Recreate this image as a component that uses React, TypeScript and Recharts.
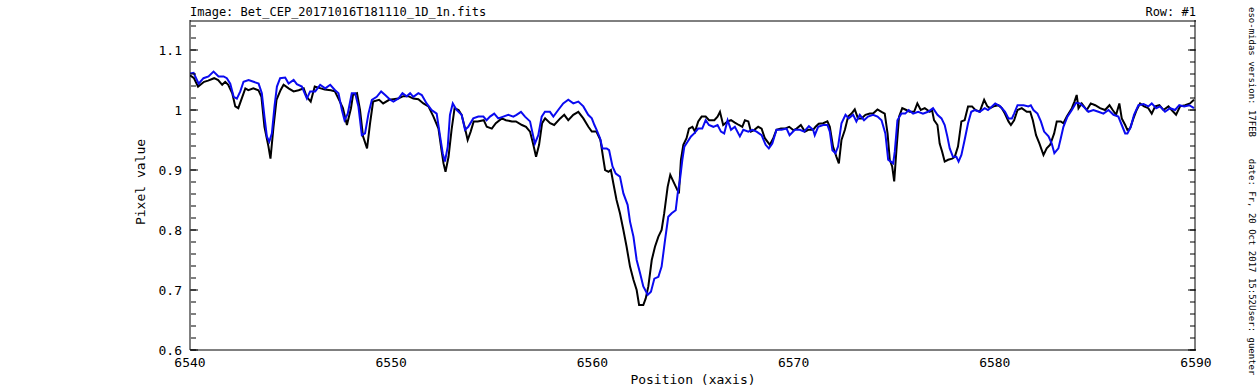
import { LineChart, Line, XAxis, YAxis } from 'recharts';

// black: first spectrum, blue: second spectrum  [wavelength, pixel value]
const blackSpectrum: [number, number][] = [
  [6540.0, 1.058], [6540.2, 1.053], [6540.4, 1.039], [6540.7, 1.047], [6540.9, 1.049], [6541.2, 1.053],
  [6541.4, 1.05], [6541.6, 1.042], [6541.75, 1.047], [6541.9, 1.042], [6542.1, 1.028], [6542.25, 1.006],
  [6542.4, 1.003], [6542.6, 1.022], [6542.75, 1.036], [6542.9, 1.033], [6543.15, 1.036], [6543.4, 1.033],
  [6543.55, 1.022], [6543.7, 0.972], [6543.9, 0.939], [6544.0, 0.919], [6544.15, 0.972], [6544.3, 1.017],
  [6544.5, 1.033], [6544.65, 1.042], [6544.9, 1.036], [6545.15, 1.031], [6545.4, 1.033], [6545.65, 1.036],
  [6545.8, 1.022], [6546.0, 1.014], [6546.2, 1.039], [6546.5, 1.036], [6546.7, 1.034], [6547.0, 1.033],
  [6547.2, 1.031], [6547.45, 1.014], [6547.6, 1.003], [6547.8, 0.975], [6548.0, 1.003], [6548.1, 1.025],
  [6548.3, 1.028], [6548.45, 1.0], [6548.6, 0.956], [6548.8, 0.936], [6548.95, 0.978], [6549.1, 1.014],
  [6549.4, 1.017], [6549.6, 1.011], [6549.9, 1.017], [6550.1, 1.018], [6550.35, 1.019], [6550.6, 1.023],
  [6550.85, 1.023], [6551.1, 1.019], [6551.35, 1.018], [6551.6, 1.011], [6551.85, 1.006], [6552.1, 0.989],
  [6552.35, 0.969], [6552.5, 0.933], [6552.6, 0.911], [6552.7, 0.897], [6552.85, 0.922], [6553.0, 0.967],
  [6553.15, 1.003], [6553.35, 1.0], [6553.5, 0.992], [6553.65, 0.972], [6553.8, 0.95], [6553.95, 0.964],
  [6554.1, 0.981], [6554.3, 0.981], [6554.6, 0.983], [6554.75, 0.972], [6555.0, 0.969], [6555.2, 0.978],
  [6555.5, 0.986], [6555.7, 0.983], [6556.0, 0.981], [6556.2, 0.981], [6556.5, 0.975], [6556.7, 0.972],
  [6556.9, 0.964], [6557.05, 0.944], [6557.2, 0.922], [6557.35, 0.942], [6557.5, 0.978], [6557.65, 0.986],
  [6557.9, 0.978], [6558.1, 0.975], [6558.4, 0.986], [6558.6, 0.992], [6558.8, 0.983], [6559.05, 0.992],
  [6559.3, 0.997], [6559.55, 0.986], [6559.8, 0.972], [6559.97, 0.964], [6560.2, 0.964], [6560.4, 0.95],
  [6560.55, 0.917], [6560.63, 0.9], [6560.8, 0.897], [6560.92, 0.9], [6561.04, 0.878], [6561.2, 0.85],
  [6561.37, 0.828], [6561.54, 0.8], [6561.7, 0.772], [6561.87, 0.739], [6562.04, 0.717], [6562.2, 0.7],
  [6562.32, 0.675], [6562.53, 0.675], [6562.65, 0.686], [6562.78, 0.706], [6562.95, 0.75], [6563.11, 0.772],
  [6563.28, 0.789], [6563.44, 0.8], [6563.57, 0.828], [6563.74, 0.872], [6563.87, 0.892], [6564.02, 0.881],
  [6564.19, 0.869], [6564.3, 0.861], [6564.4, 0.917], [6564.52, 0.942], [6564.68, 0.953], [6564.8, 0.969],
  [6564.97, 0.972], [6565.1, 0.964], [6565.26, 0.981], [6565.43, 0.989], [6565.63, 0.989], [6565.8, 0.983],
  [6566.06, 0.983], [6566.22, 0.989], [6566.34, 0.997], [6566.5, 0.975], [6566.72, 0.981], [6566.89, 0.983],
  [6567.08, 0.979], [6567.28, 0.975], [6567.45, 0.972], [6567.58, 0.983], [6567.75, 0.981], [6567.88, 0.964],
  [6568.05, 0.967], [6568.24, 0.972], [6568.41, 0.969], [6568.57, 0.953], [6568.82, 0.942], [6568.99, 0.953],
  [6569.15, 0.967], [6569.37, 0.969], [6569.57, 0.969], [6569.78, 0.972], [6570.0, 0.966], [6570.15, 0.969],
  [6570.36, 0.975], [6570.56, 0.964], [6570.73, 0.967], [6570.97, 0.967], [6571.09, 0.972], [6571.25, 0.977],
  [6571.47, 0.978], [6571.68, 0.981], [6571.8, 0.972], [6571.96, 0.939], [6572.13, 0.922], [6572.25, 0.911],
  [6572.38, 0.95], [6572.55, 0.967], [6572.71, 0.989], [6572.88, 0.994], [6573.04, 1.001], [6573.2, 0.986],
  [6573.37, 0.986], [6573.57, 0.992], [6573.79, 0.994], [6573.95, 0.994], [6574.17, 1.001], [6574.37, 0.997],
  [6574.53, 0.994], [6574.67, 0.961], [6574.78, 0.917], [6574.9, 0.906], [6575.0, 0.881], [6575.11, 0.933],
  [6575.24, 0.989], [6575.4, 1.003], [6575.6, 1.0], [6575.77, 0.997], [6575.99, 0.997], [6576.15, 1.011],
  [6576.32, 1.0], [6576.52, 1.003], [6576.77, 0.997], [6576.88, 1.0], [6576.98, 0.983], [6577.15, 0.975],
  [6577.26, 0.944], [6577.38, 0.931], [6577.51, 0.914], [6577.68, 0.917], [6577.88, 0.919], [6578.01, 0.922],
  [6578.17, 0.939], [6578.34, 0.981], [6578.5, 0.983], [6578.67, 1.006], [6578.87, 1.006], [6579.03, 1.0],
  [6579.25, 0.997], [6579.47, 1.017], [6579.63, 1.006], [6579.77, 1.003], [6579.94, 1.006], [6580.18, 1.008],
  [6580.35, 1.003], [6580.5, 0.994], [6580.68, 0.981], [6580.8, 0.975], [6580.96, 0.983], [6581.13, 1.0],
  [6581.34, 1.003], [6581.59, 0.997], [6581.76, 0.997], [6581.89, 0.983], [6582.05, 0.958], [6582.22, 0.944],
  [6582.42, 0.925], [6582.58, 0.936], [6582.75, 0.942], [6582.95, 0.961], [6583.08, 0.981], [6583.28, 0.981],
  [6583.41, 0.978], [6583.58, 0.989], [6583.83, 1.003], [6583.96, 1.014], [6584.07, 1.025], [6584.16, 1.003],
  [6584.32, 1.011], [6584.57, 1.0], [6584.77, 1.011], [6584.99, 1.008], [6585.23, 1.003], [6585.48, 1.0],
  [6585.7, 1.008], [6585.86, 1.0], [6586.03, 0.992], [6586.19, 1.011], [6586.31, 0.986], [6586.48, 0.975],
  [6586.59, 0.967], [6586.72, 0.969], [6586.89, 0.986], [6587.05, 1.0], [6587.22, 1.011], [6587.42, 1.006],
  [6587.63, 1.003], [6587.8, 0.994], [6587.97, 1.006], [6588.18, 1.008], [6588.38, 1.0], [6588.63, 1.006],
  [6588.79, 1.0], [6589.01, 0.992], [6589.21, 1.006], [6589.46, 1.008], [6589.7, 1.011], [6589.9, 1.017],
];

const blueSpectrum: [number, number][] = [
  [6540.0, 1.061], [6540.18, 1.062], [6540.43, 1.044], [6540.67, 1.053], [6540.92, 1.056], [6541.17, 1.064],
  [6541.42, 1.056], [6541.67, 1.056], [6541.83, 1.053], [6542.0, 1.044], [6542.17, 1.022], [6542.33, 1.019],
  [6542.5, 1.031], [6542.66, 1.047], [6542.91, 1.05], [6543.16, 1.047], [6543.41, 1.044], [6543.57, 1.028],
  [6543.7, 0.989], [6543.82, 0.956], [6543.94, 0.947], [6544.07, 0.961], [6544.2, 1.006], [6544.32, 1.039],
  [6544.48, 1.053], [6544.73, 1.054], [6544.9, 1.044], [6545.15, 1.05], [6545.31, 1.043], [6545.56, 1.039],
  [6545.81, 1.019], [6545.97, 1.031], [6546.22, 1.031], [6546.47, 1.042], [6546.72, 1.036], [6546.97, 1.042],
  [6547.21, 1.033], [6547.38, 1.028], [6547.55, 1.0], [6547.68, 0.983], [6547.84, 0.994], [6548.04, 1.028],
  [6548.21, 1.028], [6548.37, 1.006], [6548.54, 0.958], [6548.7, 0.961], [6548.87, 0.994], [6549.04, 1.017],
  [6549.28, 1.022], [6549.5, 1.031], [6549.7, 1.025], [6549.95, 1.017], [6550.11, 1.014], [6550.36, 1.019],
  [6550.56, 1.028], [6550.77, 1.023], [6550.94, 1.028], [6551.1, 1.022], [6551.35, 1.028], [6551.52, 1.025],
  [6551.76, 1.011], [6552.01, 1.0], [6552.26, 0.994], [6552.43, 0.956], [6552.56, 0.928], [6552.67, 0.914],
  [6552.81, 0.939], [6552.92, 0.992], [6553.06, 1.011], [6553.25, 1.0], [6553.5, 0.992], [6553.67, 0.967],
  [6553.83, 0.972], [6554.08, 0.986], [6554.33, 0.989], [6554.58, 0.989], [6554.74, 0.983], [6554.91, 0.989],
  [6555.12, 0.994], [6555.32, 0.986], [6555.57, 0.989], [6555.82, 0.992], [6556.07, 0.989], [6556.23, 0.992],
  [6556.45, 0.997], [6556.65, 0.989], [6556.9, 0.981], [6557.01, 0.964], [6557.14, 0.944], [6557.31, 0.958],
  [6557.48, 0.989], [6557.64, 0.997], [6557.89, 0.997], [6558.06, 0.989], [6558.3, 1.0], [6558.55, 1.011],
  [6558.8, 1.017], [6559.05, 1.011], [6559.3, 1.014], [6559.55, 1.006], [6559.79, 0.992], [6559.97, 0.986],
  [6560.1, 0.975], [6560.21, 0.967], [6560.38, 0.953], [6560.5, 0.936], [6560.71, 0.936], [6560.83, 0.933],
  [6561.0, 0.906], [6561.16, 0.894], [6561.37, 0.889], [6561.54, 0.861], [6561.75, 0.842], [6561.87, 0.814],
  [6562.04, 0.789], [6562.2, 0.75], [6562.37, 0.728], [6562.53, 0.706], [6562.75, 0.692], [6562.91, 0.697],
  [6563.08, 0.719], [6563.28, 0.722], [6563.44, 0.739], [6563.61, 0.783], [6563.77, 0.822], [6563.94, 0.828],
  [6564.14, 0.833], [6564.24, 0.861], [6564.35, 0.883], [6564.47, 0.917], [6564.57, 0.939], [6564.73, 0.947],
  [6564.9, 0.956], [6565.06, 0.961], [6565.26, 0.969], [6565.46, 0.969], [6565.63, 0.983], [6565.79, 0.975],
  [6566.01, 0.972], [6566.22, 0.975], [6566.39, 0.964], [6566.55, 0.961], [6566.72, 0.983], [6566.89, 0.967],
  [6567.08, 0.972], [6567.33, 0.956], [6567.5, 0.967], [6567.75, 0.964], [6567.95, 0.967], [6568.16, 0.964],
  [6568.41, 0.958], [6568.61, 0.942], [6568.77, 0.936], [6568.94, 0.944], [6569.15, 0.967], [6569.4, 0.967],
  [6569.65, 0.969], [6569.8, 0.958], [6570.06, 0.967], [6570.31, 0.967], [6570.52, 0.964], [6570.76, 0.973],
  [6570.97, 0.967], [6571.05, 0.958], [6571.22, 0.972], [6571.47, 0.975], [6571.68, 0.975], [6571.8, 0.964],
  [6571.93, 0.933], [6572.08, 0.928], [6572.21, 0.939], [6572.38, 0.978], [6572.58, 0.992], [6572.74, 0.986],
  [6572.96, 0.992], [6573.12, 0.981], [6573.29, 0.992], [6573.5, 0.983], [6573.7, 0.989], [6573.95, 0.992],
  [6574.17, 0.989], [6574.37, 0.983], [6574.56, 0.961], [6574.7, 0.917], [6574.83, 0.914], [6574.95, 0.911],
  [6575.03, 0.931], [6575.16, 0.983], [6575.36, 0.994], [6575.55, 0.994], [6575.72, 1.0], [6575.94, 0.994],
  [6576.19, 0.997], [6576.43, 0.994], [6576.68, 0.997], [6576.93, 1.003], [6577.15, 0.992], [6577.35, 0.986],
  [6577.51, 0.975], [6577.64, 0.956], [6577.76, 0.936], [6577.92, 0.922], [6578.09, 0.922], [6578.2, 0.914],
  [6578.34, 0.925], [6578.5, 0.95], [6578.67, 0.978], [6578.83, 0.997], [6579.0, 1.0], [6579.25, 0.997],
  [6579.5, 1.003], [6579.66, 1.0], [6579.86, 1.006], [6580.02, 1.011], [6580.27, 1.006], [6580.51, 0.997],
  [6580.68, 0.986], [6580.85, 0.986], [6580.96, 0.994], [6581.13, 1.008], [6581.43, 1.008], [6581.67, 1.006],
  [6581.79, 1.008], [6581.92, 1.0], [6582.12, 0.994], [6582.29, 0.981], [6582.45, 0.964], [6582.67, 0.956],
  [6582.83, 0.944], [6582.96, 0.928], [6583.16, 0.936], [6583.28, 0.953], [6583.41, 0.972], [6583.61, 0.989],
  [6583.83, 1.0], [6584.04, 1.012], [6584.24, 1.011], [6584.4, 1.006], [6584.65, 0.997], [6584.9, 1.0],
  [6585.15, 0.997], [6585.4, 0.994], [6585.65, 1.0], [6585.9, 0.992], [6586.14, 0.989], [6586.31, 0.975],
  [6586.48, 0.961], [6586.59, 0.961], [6586.76, 0.972], [6586.92, 0.992], [6587.14, 1.008], [6587.39, 1.01],
  [6587.63, 1.006], [6587.8, 1.011], [6588.02, 1.003], [6588.21, 1.006], [6588.46, 0.997], [6588.71, 1.003],
  [6588.96, 1.0], [6589.17, 1.008], [6589.41, 1.006], [6589.67, 1.008], [6589.9, 1.003],
];

const majorX = [6540, 6550, 6560, 6570, 6580, 6590];
const minorX = [
  6540, 6542, 6544, 6546, 6548, 6550, 6552, 6554, 6556, 6558, 6560, 6562, 6564,
  6566, 6568, 6570, 6572, 6574, 6576, 6578, 6580, 6582, 6584, 6586, 6588, 6590,
];
const majorY = [0.6, 0.7, 0.8, 0.9, 1, 1.1];
const minorY = [
  0.6, 0.62, 0.64, 0.66, 0.68, 0.7, 0.72, 0.74, 0.76, 0.78, 0.8, 0.82, 0.84, 0.86,
  0.88, 0.9, 0.92, 0.94, 0.96, 0.98, 1, 1.02, 1.04, 1.06, 1.08, 1.1, 1.12, 1.14,
];

const blackData = blackSpectrum.map(([x, y]) => ({ x, y }));
const blueData = blueSpectrum.map(([x, y]) => ({ x, y }));

const mono = '"DejaVu Sans Mono", "Liberation Mono", monospace';
const xDomain = [6540, 6590];
const yDomain = [0.6, 1.15];
const tickFont = { fontSize: 13, fontFamily: mono, fill: '#000' };
const frame = { stroke: '#000', strokeWidth: 1 };
const tickStroke = { stroke: '#000', strokeWidth: 1 };
const noLabel = () => '';

export default function App() {
  return (
    <div style={{ position: 'absolute', left: 0, top: 0, width: 1260, height: 390, background: '#fff', fontFamily: mono, color: '#000' }}>
      <LineChart width={1260} height={390} margin={{ top: 20, right: 64, bottom: 10, left: 140 }}>
        <XAxis xAxisId="main" type="number" dataKey="x" domain={xDomain} allowDataOverflow ticks={majorX}
          tickLine={false} axisLine={frame} height={30} tick={tickFont} interval={0} />
        <XAxis xAxisId="bMinor" type="number" domain={xDomain} allowDataOverflow ticks={minorX} mirror height={1}
          tickFormatter={noLabel} tickSize={5} tickLine={tickStroke} axisLine={false} interval={0} />
        <XAxis xAxisId="bMajor" type="number" domain={xDomain} allowDataOverflow ticks={majorX} mirror height={1}
          tickFormatter={noLabel} tickSize={8} tickLine={tickStroke} axisLine={false} interval={0} />
        <XAxis xAxisId="tMinor" orientation="top" type="number" domain={xDomain} allowDataOverflow ticks={minorX} mirror height={1}
          tickFormatter={noLabel} tickSize={5} tickLine={tickStroke} axisLine={frame} interval={0} />
        <XAxis xAxisId="tMajor" orientation="top" type="number" domain={xDomain} allowDataOverflow ticks={majorX} mirror height={1}
          tickFormatter={noLabel} tickSize={8} tickLine={tickStroke} axisLine={false} interval={0} />

        <YAxis yAxisId="main" type="number" domain={yDomain} allowDataOverflow ticks={majorY}
          tickLine={false} axisLine={frame} width={50} tick={tickFont} interval={0}
          tickFormatter={(v: number) => String(v)} />
        <YAxis yAxisId="lMinor" type="number" domain={yDomain} allowDataOverflow ticks={minorY} mirror width={1}
          tickFormatter={noLabel} tickSize={5} tickLine={tickStroke} axisLine={false} interval={0} />
        <YAxis yAxisId="lMajor" type="number" domain={yDomain} allowDataOverflow ticks={majorY} mirror width={1}
          tickFormatter={noLabel} tickSize={8} tickLine={tickStroke} axisLine={false} interval={0} />
        <YAxis yAxisId="rMinor" orientation="right" type="number" domain={yDomain} allowDataOverflow ticks={minorY} mirror width={1}
          tickFormatter={noLabel} tickSize={5} tickLine={tickStroke} axisLine={frame} interval={0} />
        <YAxis yAxisId="rMajor" orientation="right" type="number" domain={yDomain} allowDataOverflow ticks={majorY} mirror width={1}
          tickFormatter={noLabel} tickSize={8} tickLine={tickStroke} axisLine={false} interval={0} />

        <Line xAxisId="main" yAxisId="main" data={blackData} dataKey="y" type="linear" stroke="#000"
          strokeWidth={2} dot={false} isAnimationActive={false} />
        <Line xAxisId="main" yAxisId="main" data={blueData} dataKey="y" type="linear" stroke="#0a0af0"
          strokeWidth={2} dot={false} isAnimationActive={false} />
      </LineChart>

      <div style={{ position: 'absolute', left: 190, top: 4, fontSize: 12, lineHeight: '16px', whiteSpace: 'pre' }}>
        Image: Bet_CEP_20171016T181110_1D_1n.fits
      </div>
      <div style={{ position: 'absolute', right: 64, top: 4, fontSize: 12, lineHeight: '16px', whiteSpace: 'pre' }}>
        Row: #1
      </div>
      <div style={{ position: 'absolute', left: 593, top: 372, width: 200, textAlign: 'center', fontSize: 13, lineHeight: '16px', whiteSpace: 'pre' }}>
        Position (xaxis)
      </div>
      <div style={{ position: 'absolute', left: 61, top: 174, width: 160, height: 16, textAlign: 'center', fontSize: 13, lineHeight: '16px', transform: 'rotate(-90deg)', whiteSpace: 'pre' }}>
        Pixel value
      </div>
      <div style={{ position: 'absolute', left: 1062, top: 191, width: 380, height: 12, fontSize: 9, lineHeight: '12px', transform: 'rotate(90deg)', whiteSpace: 'pre' }}>
        {'eso-midas version: 17FEB    date: Fr, 20 Oct 2017 15:52User: guenter'}
      </div>
    </div>
  );
}
